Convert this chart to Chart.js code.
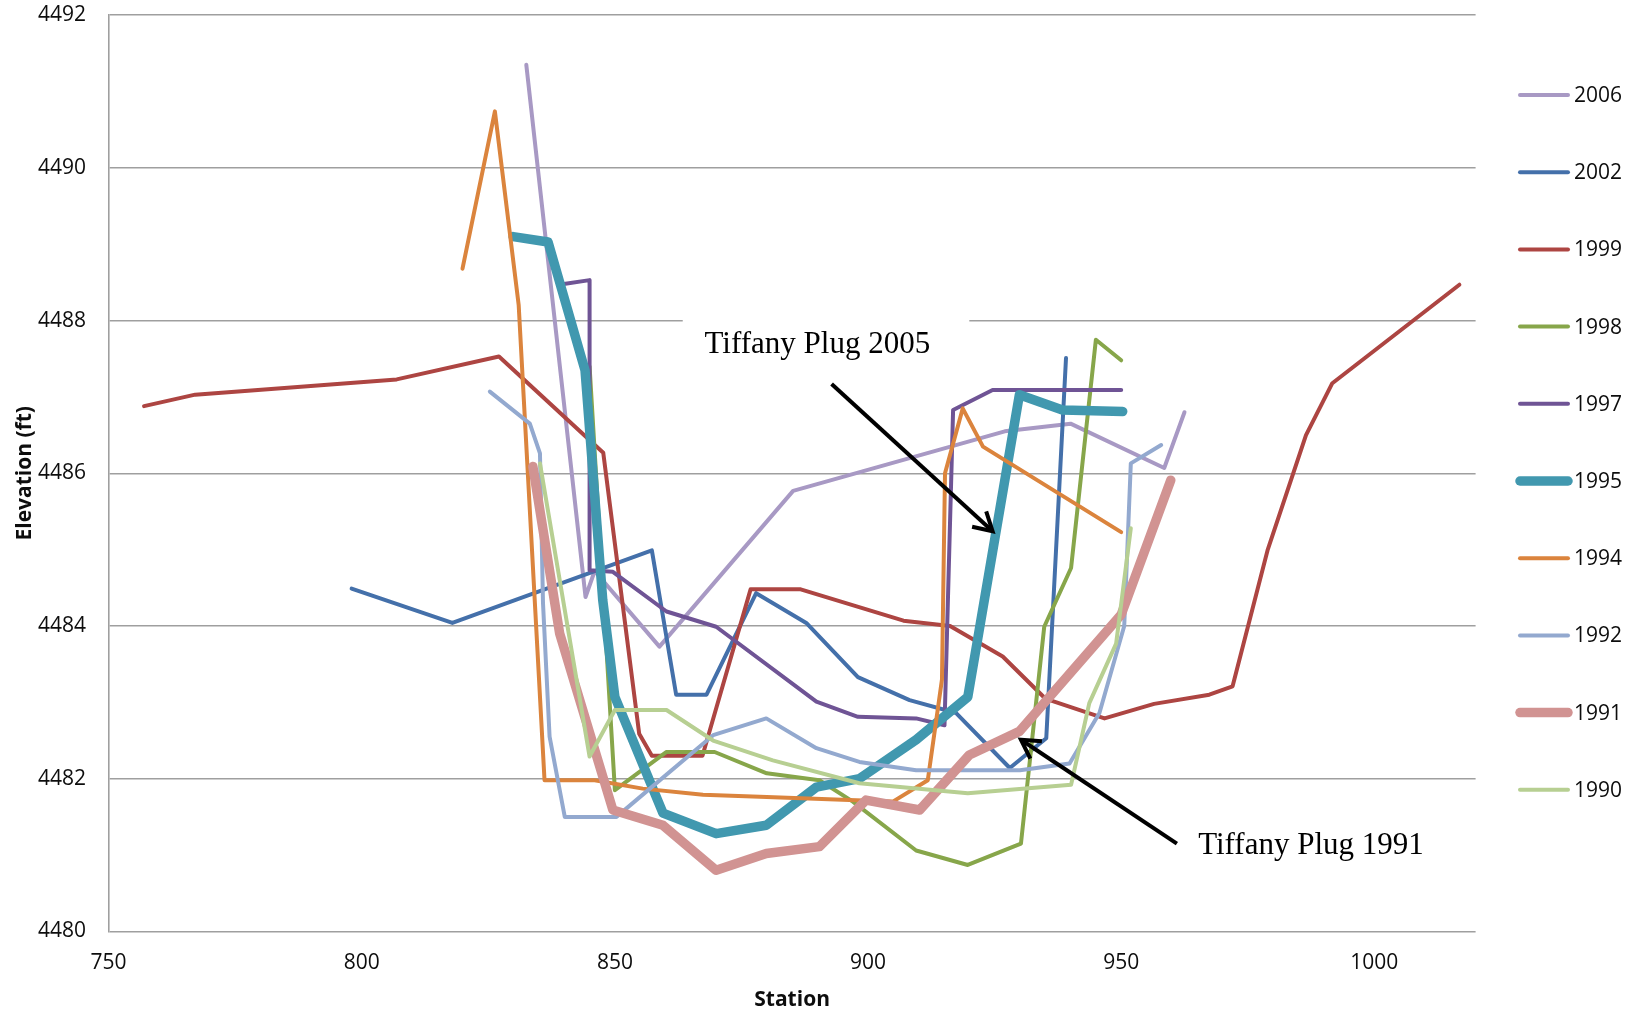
<!DOCTYPE html>
<html>
<head>
<meta charset="utf-8">
<title>Channel cross sections</title>
<script src="https://cdn.jsdelivr.net/npm/chart.js@4.4.1/dist/chart.umd.min.js"></script>
<style>
  html, body { margin: 0; padding: 0; background: #ffffff; }
  #wrap { width: 1637px; height: 1013px; position: relative; }
  canvas { display: block; }
</style>
</head>
<body>
<div id="wrap"><canvas id="chart" width="1637" height="1013"></canvas></div>
<script>
// ---- Survey data: station (ft) and bed elevation (ft) per survey year ----
const seriesNames = ['2006', '2002', '1999', '1998', '1997', '1995', '1994', '1992', '1991', '1990'];

const st2006 = [832.5, 844.2, 846.0, 858.8, 885.2, 927.0, 940.0, 958.5, 962.5];
const el2006 = [4491.35, 4484.38, 4484.72, 4483.73, 4485.77, 4486.55, 4486.65, 4486.07, 4486.80];

const st2002 = [798.0, 817.9, 857.3, 862.1, 868.1, 877.9, 887.8, 898.0, 908.2, 917.4, 928.0, 935.2, 939.1];
const el2002 = [4484.49, 4484.04, 4484.99, 4483.10, 4483.10, 4484.43, 4484.04, 4483.33, 4483.03, 4482.86, 4482.14, 4482.53, 4487.51];

const st1999 = [757.0, 767.1, 806.9, 827.1, 847.7, 854.8, 857.3, 867.3, 876.8, 886.7, 907.0, 916.2, 926.6, 935.0, 946.7, 956.5, 967.4, 972.0, 978.9, 986.5, 991.7, 1016.8];
const el1999 = [4486.88, 4487.03, 4487.23, 4487.53, 4486.27, 4482.59, 4482.30, 4482.30, 4484.48, 4484.48, 4484.07, 4484.00, 4483.60, 4483.05, 4482.79, 4482.98, 4483.10, 4483.21, 4484.99, 4486.50, 4487.18, 4488.47];

const st1998 = [845.0, 850.0, 860.2, 869.7, 880.0, 890.4, 897.0, 909.5, 919.7, 930.2, 934.8, 940.1, 945.0, 950.0];
const el1998 = [4487.40, 4481.85, 4482.35, 4482.35, 4482.07, 4481.98, 4481.70, 4481.06, 4480.87, 4481.15, 4483.99, 4484.76, 4487.75, 4487.48];

const st1997 = [839.9, 845.0, 845.0, 849.6, 860.2, 870.0, 889.8, 898.0, 909.5, 915.1, 916.8, 924.6, 950.0];
const el1997 = [4488.48, 4488.53, 4484.73, 4484.71, 4484.19, 4483.99, 4483.01, 4482.81, 4482.79, 4482.70, 4486.83, 4487.09, 4487.09];

const st1995 = [829.9, 836.8, 844.1, 847.6, 850.0, 859.5, 870.0, 879.9, 889.8, 898.3, 909.5, 919.7, 929.9, 938.4, 950.3];
const el1995 = [4489.10, 4489.03, 4487.35, 4484.34, 4483.07, 4481.55, 4481.28, 4481.39, 4481.89, 4482.00, 4482.51, 4483.07, 4487.03, 4486.83, 4486.81];

const st1994 = [819.9, 826.3, 831.0, 836.1, 846.0, 855.5, 867.4, 880.0, 896.3, 904.9, 911.8, 914.6, 915.2, 918.7, 922.7, 950.0];
const el1994 = [4488.68, 4490.74, 4488.20, 4481.98, 4481.98, 4481.87, 4481.79, 4481.76, 4481.72, 4481.70, 4481.98, 4483.30, 4486.00, 4486.85, 4486.35, 4485.23];

const st1992 = [825.3, 833.2, 835.2, 835.8, 837.1, 840.1, 850.3, 869.4, 879.9, 889.8, 898.3, 909.5, 930.0, 939.8, 945.7, 950.6, 951.9, 957.9];
const el1992 = [4487.07, 4486.65, 4486.26, 4484.30, 4482.55, 4481.50, 4481.50, 4482.57, 4482.79, 4482.40, 4482.22, 4482.11, 4482.11, 4482.20, 4482.86, 4484.00, 4486.13, 4486.37];

const st1991 = [833.8, 839.1, 849.6, 859.5, 870.0, 879.9, 890.4, 899.6, 910.2, 920.0, 929.9, 950.0, 959.8];
const el1991 = [4486.09, 4483.90, 4481.59, 4481.39, 4480.80, 4481.02, 4481.11, 4481.72, 4481.59, 4482.31, 4482.62, 4484.15, 4485.91];

const st1990 = [835.2, 845.0, 850.0, 860.2, 869.4, 881.2, 898.3, 919.7, 940.1, 943.7, 949.0, 951.9];
const el1990 = [4486.13, 4482.29, 4482.90, 4482.90, 4482.50, 4482.24, 4481.94, 4481.81, 4481.92, 4482.99, 4483.77, 4485.28];

const stations = [st2006, st2002, st1999, st1998, st1997, st1995, st1994, st1992, st1991, st1990];
const elevations = [el2006, el2002, el1999, el1998, el1997, el1995, el1994, el1992, el1991, el1990];

// Axis tick labels
const xTickValues = [750, 800, 850, 900, 950, 1000];
const yTickValues = [4480, 4482, 4484, 4486, 4488, 4490, 4492];

// ---- Styling ----
const seriesColors = ['#a899c4', '#4470aa', '#ad4542', '#87a64a', '#6f5495', '#4198af', '#db843d', '#93a9cf', '#d19392', '#b7cf92'];
const seriesWidths = [4, 4, 4, 4, 4, 9.5, 4, 4, 9.5, 4];

const FONT = '"Open Sans", "Noto Sans", "Liberation Sans", sans-serif';
const TEXT_COLOR = '#0d0d0d';
const GRID_COLOR = '#9f9f9f';

// Callout notes, anchored in data units (station, elevation)
const notes = [
  { text: 'Tiffany Plug 2005', at: [867.7, 4487.57], from: [892.8, 4487.17], to: [924.6, 4485.24], box: [863.4, 4488.27, 920.0, 4487.28] },
  { text: 'Tiffany Plug 1991', at: [965.2, 4481.01], from: [961.0, 4481.15], to: [930.2, 4482.51] }
];

const datasets = seriesNames.map((name, i) => ({
  label: name,
  data: stations[i].map((x, k) => ({ x: x, y: elevations[i][k] })),
  borderColor: seriesColors[i],
  backgroundColor: seriesColors[i],
  borderWidth: seriesWidths[i],
  borderJoinStyle: 'round',
  borderCapStyle: 'round',
  pointRadius: 0,
  pointHoverRadius: 0,
  tension: 0,
  fill: false,
  order: seriesNames.length - 1 - i
}));

// White label box behind the upper callout (hides the gridline under the text)
const noteBoxes = {
  id: 'noteBoxes',
  beforeDatasetsDraw(chart) {
    const { ctx, scales: { x, y } } = chart;
    ctx.save();
    ctx.fillStyle = '#ffffff';
    notes.forEach(n => {
      if (!n.box) return;
      const x0 = x.getPixelForValue(n.box[0]);
      const y0 = y.getPixelForValue(n.box[1]);
      const x1 = x.getPixelForValue(n.box[2]);
      const y1 = y.getPixelForValue(n.box[3]);
      ctx.fillRect(x0, y0, x1 - x0, y1 - y0);
    });
    ctx.restore();
  }
};

// Callout text and arrows
const noteArrows = {
  id: 'noteArrows',
  afterDatasetsDraw(chart) {
    const { ctx, scales: { x, y } } = chart;
    ctx.save();
    ctx.fillStyle = '#000000';
    ctx.strokeStyle = '#000000';
    ctx.font = '31px "Liberation Serif", "Times New Roman", serif';
    ctx.textAlign = 'left';
    ctx.textBaseline = 'alphabetic';
    notes.forEach(n => {
      ctx.fillText(n.text, x.getPixelForValue(n.at[0]), y.getPixelForValue(n.at[1]));
      const x1 = x.getPixelForValue(n.from[0]), y1 = y.getPixelForValue(n.from[1]);
      const x2 = x.getPixelForValue(n.to[0]), y2 = y.getPixelForValue(n.to[1]);
      ctx.lineWidth = 4;
      ctx.lineCap = 'butt';
      ctx.beginPath();
      ctx.moveTo(x1, y1);
      ctx.lineTo(x2, y2);
      ctx.stroke();
      const a = Math.atan2(y2 - y1, x2 - x1);
      const len = 21, spread = 0.52;
      ctx.lineJoin = 'miter';
      ctx.beginPath();
      ctx.moveTo(x2 - len * Math.cos(a - spread), y2 - len * Math.sin(a - spread));
      ctx.lineTo(x2, y2);
      ctx.lineTo(x2 - len * Math.cos(a + spread), y2 - len * Math.sin(a + spread));
      ctx.stroke();
    });
    ctx.restore();
  }
};

// Series key on the right-hand side
const sideLegend = {
  id: 'sideLegend',
  afterDraw(chart) {
    const { ctx } = chart;
    const top = 95, step = 77.2, lx0 = 1520, lx1 = 1568, tx = 1574;
    ctx.save();
    ctx.font = '21px ' + FONT;
    ctx.fillStyle = TEXT_COLOR;
    ctx.textAlign = 'left';
    ctx.textBaseline = 'middle';
    chart.data.datasets.forEach((ds, i) => {
      const yy = top + i * step;
      ctx.strokeStyle = ds.borderColor;
      ctx.lineWidth = ds.borderWidth;
      ctx.lineCap = 'round';
      ctx.beginPath();
      ctx.moveTo(lx0, yy);
      ctx.lineTo(lx1, yy);
      ctx.stroke();
      ctx.fillText(ds.label, tx, yy + 1);
    });
    ctx.restore();
  }
};

new Chart(document.getElementById('chart'), {
  type: 'line',
  data: { datasets: datasets },
  options: {
    responsive: false,
    animation: false,
    devicePixelRatio: 1,
    layout: { padding: { top: 15.2, right: 161.4, bottom: 0, left: 0 } },
    plugins: {
      legend: { display: false },
      tooltip: { enabled: false },
      title: { display: false }
    },
    scales: {
      x: {
        type: 'linear',
        min: 750,
        max: 1020,
        afterBuildTicks(scale) { scale.ticks = xTickValues.map(v => ({ value: v })); },
        afterFit(scale) { scale.height = 81.6; scale.paddingLeft = 0; scale.paddingRight = 0; },
        grid: { display: false, drawTicks: false },
        border: { display: false },
        ticks: {
          padding: 19,
          maxRotation: 0,
          autoSkip: false,
          color: TEXT_COLOR,
          font: { family: FONT, size: 21 },
          callback: v => String(v)
        },
        title: {
          display: true,
          text: 'Station',
          color: TEXT_COLOR,
          font: { family: FONT, size: 21, weight: 'bold', lineHeight: 1.2 },
          padding: { top: 0, bottom: 0.5 }
        }
      },
      y: {
        type: 'linear',
        min: 4480,
        max: 4492,
        afterBuildTicks(scale) { scale.ticks = yTickValues.map(v => ({ value: v })); },
        afterFit(scale) { scale.width = 108.6; scale.paddingTop = 0; scale.paddingBottom = 0; },
        grid: { color: GRID_COLOR, lineWidth: 1.6, drawTicks: false },
        border: { display: true, color: GRID_COLOR, width: 1.6 },
        ticks: {
          padding: 22.6,
          autoSkip: false,
          color: TEXT_COLOR,
          font: { family: FONT, size: 21 },
          callback: v => String(v)
        },
        title: {
          display: true,
          text: 'Elevation (ft)',
          color: TEXT_COLOR,
          font: { family: FONT, size: 21, weight: 'bold', lineHeight: 1.2 },
          padding: { top: 12.4, bottom: 0 }
        }
      }
    }
  },
  plugins: [noteBoxes, noteArrows, sideLegend]
});
</script>
</body>
</html>
